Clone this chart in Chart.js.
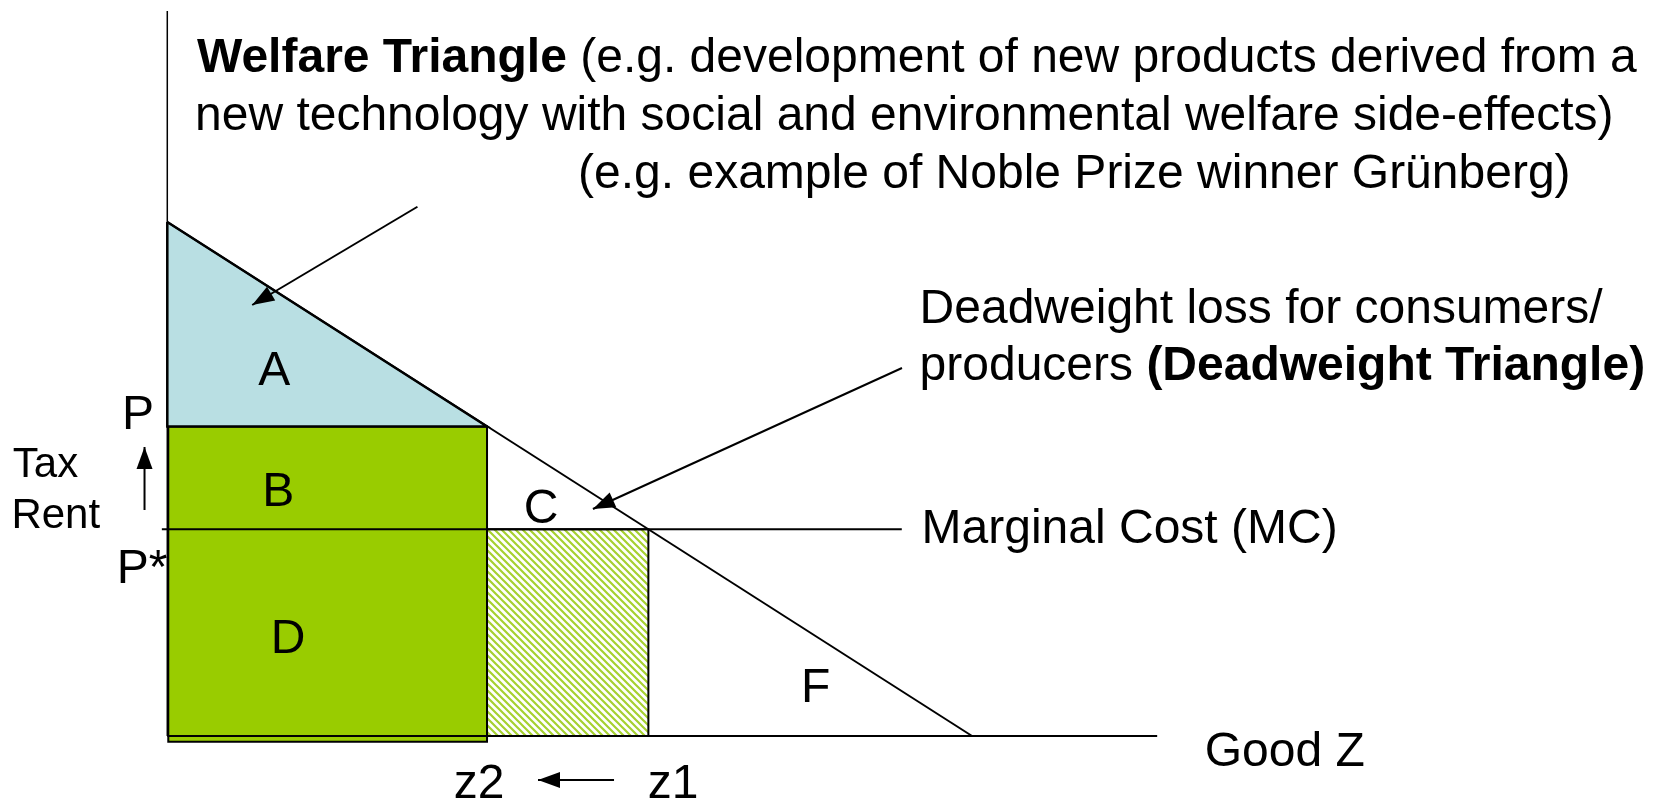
<!DOCTYPE html>
<html lang="en">
<head>
  <meta charset="UTF-8">
  <title>Welfare Triangle</title>
  <script src="https://cdn.jsdelivr.net/npm/chart.js"></script>
  <style>
    html, body { margin: 0; padding: 0; background: #fff; overflow: hidden; }
    #wrap { width: 1664px; height: 801px; }
  </style>
</head>
<body>
  <div id="wrap"><canvas id="welfareChart"></canvas></div>

  <script>
    // demand curve (price axis intercept, quantity axis intercept)
    const demandQty = [0, 81.3];
    const demandPrice = [70.9, 0];
    // price levels
    const priceNames = ['P', 'P*'];
    const prices = [42.7, 28.5];
    // quantities
    const qtyNames = ['z2', 'z1'];
    const quantities = [32.3, 48.6];
    // marginal cost line runs from just left of the axis to the label
    const mcRange = [-0.55, 74.2];
    // axis lengths
    const axisQtyMax = 100;
    const axisPriceMax = 100;
    // area letters
    const areaNames = ['A', 'B', 'C', 'D', 'F'];

    const FONT = '"Liberation Sans", Arial, sans-serif';
    const SIZE = 48;

    // text placed in data units: [x, y, align, segments, size]
    const notes = [
      [3.0, 91.6, 'left', [['Welfare Triangle', true], [' (e.g. development of new products derived from a', false]]],
      [2.8, 83.6, 'left', [['new technology with social and environmental welfare side-effects)', false]]],
      [41.5, 75.6, 'left', [['(e.g. example of Noble Prize winner Grünberg)', false]]],
      [76.0, 57.0, 'left', [['Deadweight loss for consumers/', false]]],
      [76.0, 49.1, 'left', [['producers ', false], ['(Deadweight Triangle)', true]]],
      [76.2, 26.6, 'left', [['Marginal Cost (MC)', false]]],
      [104.8, -4.1, 'left', [['Good Z', false]]],
      [-15.6, 35.7, 'left', [['Tax', false]], 42],
      [-15.75, 28.7, 'left', [['Rent', false]], 42],
      [10.8, 48.4, 'center', [[areaNames[0], false]]],
      [11.2, 31.7, 'center', [[areaNames[1], false]]],
      [37.75, 29.4, 'center', [[areaNames[2], false]]],
      [12.2, 11.45, 'center', [[areaNames[3], false]]],
      [65.5, 4.7, 'center', [[areaNames[4], false]]],
      [-2.95, 42.3, 'center', [[priceNames[0], false]]],
      [-2.55, 21.1, 'center', [[priceNames[1], false]]],
      [31.5, -8.55, 'center', [[qtyNames[0], false]]],
      [51.1, -8.55, 'center', [[qtyNames[1], false]]]
    ];

    function hatchPattern(ctx) {
      const c = document.createElement('canvas');
      c.width = 7; c.height = 7;
      const g = c.getContext('2d');
      g.fillStyle = '#ffffff';
      g.fillRect(0, 0, 7, 7);
      g.strokeStyle = '#a6d130';
      g.lineWidth = 2.2;
      g.beginPath();
      g.moveTo(-1, -1); g.lineTo(8, 8);
      g.moveTo(-1, 6); g.lineTo(1, 8);
      g.moveTo(6, -1); g.lineTo(8, 1);
      g.stroke();
      return ctx.createPattern(c, 'repeat');
    }

    const pt = (x, y) => ({ x: x, y: y });
    const [pP, pStar] = prices;
    const [z2, z1] = quantities;

    const lineBase = { showLine: true, pointRadius: 0, borderColor: '#000', tension: 0, fill: false };

    const canvas = document.getElementById('welfareChart');
    const ctx = canvas.getContext('2d');

    const datasets = [
      // arrows
      { ...lineBase, order: 0, arrow: true, borderWidth: 2,
        data: [pt(25.27, 73.0), pt(8.58, 59.45)] },
      { ...lineBase, order: 0, arrow: true, borderWidth: 2,
        data: [pt(74.22, 50.76), pt(43.0, 31.31)] },
      { ...lineBase, order: 0, arrow: true, borderWidth: 2,
        data: [pt(-2.3, 31.17), pt(-2.3, 39.86)] },
      { ...lineBase, order: 0, arrow: true, borderWidth: 2,
        data: [pt(45.13, -6.07), pt(37.45, -6.07)] },
      // demand
      { ...lineBase, order: 1, borderWidth: 2,
        data: [pt(demandQty[0], demandPrice[0]), pt(demandQty[1], demandPrice[1])] },
      // marginal cost
      { ...lineBase, order: 1, borderWidth: 2,
        data: [pt(mcRange[0], pStar), pt(mcRange[1], pStar)] },
      // axes
      { ...lineBase, order: 1, borderWidth: 1.5,
        data: [pt(0, 0), pt(0, axisPriceMax)] },
      { ...lineBase, order: 1, borderWidth: 2,
        data: [pt(0, 0), pt(axisQtyMax, 0)] },
      // hatched area between z2 and z1 below P*
      { ...lineBase, order: 5, borderWidth: 2, fill: 'shape', backgroundColor: hatchPattern(ctx),
        data: [pt(z2, pStar), pt(z1, pStar), pt(z1, 0), pt(z2, 0), pt(z2, pStar)] },
      // welfare triangle A
      { ...lineBase, order: 6, borderWidth: 2.5, fill: 'shape', backgroundColor: '#b9dfe3',
        data: [pt(0, demandPrice[0]), pt(z2, pP), pt(0, pP), pt(0, demandPrice[0])] },
      // tax rent + cost area B + D
      { ...lineBase, order: 7, borderWidth: 2, fill: 'shape', backgroundColor: '#99cc00',
        data: [pt(0.1, pP), pt(z2, pP), pt(z2, -0.8), pt(0.1, -0.8), pt(0.1, pP)] }
    ];

    const arrowHeads = {
      id: 'arrowHeads',
      afterDatasetsDraw(chart) {
        const c = chart.ctx;
        chart.data.datasets.forEach((ds, i) => {
          if (!ds.arrow) return;
          const pts = chart.getDatasetMeta(i).data;
          const a = pts[pts.length - 2], b = pts[pts.length - 1];
          const ang = Math.atan2(b.y - a.y, b.x - a.x);
          const len = 22, half = 8;
          c.save();
          c.fillStyle = '#000';
          c.translate(b.x, b.y);
          c.rotate(ang);
          c.beginPath();
          c.moveTo(0, 0);
          c.lineTo(-len, -half);
          c.lineTo(-len, half);
          c.closePath();
          c.fill();
          c.restore();
        });
      }
    };

    const notesPlugin = {
      id: 'notes',
      afterDraw(chart) {
        const c = chart.ctx;
        const sx = chart.scales.x, sy = chart.scales.y;
        c.save();
        c.fillStyle = '#000';
        c.textBaseline = 'alphabetic';
        c.textAlign = 'left';
        notes.forEach(([x, y, align, segs, size]) => {
          const fs = size || SIZE;
          let px = sx.getPixelForValue(x);
          const py = sy.getPixelForValue(y);
          let total = 0;
          segs.forEach(([t, bold]) => {
            c.font = (bold ? 'bold ' : '') + fs + 'px ' + FONT;
            total += c.measureText(t).width;
          });
          if (align === 'center') px -= total / 2;
          segs.forEach(([t, bold]) => {
            c.font = (bold ? 'bold ' : '') + fs + 'px ' + FONT;
            c.fillText(t, px, py);
            px += c.measureText(t).width;
          });
        });
        c.restore();
      }
    };

    new Chart(ctx, {
      type: 'scatter',
      data: { datasets: datasets },
      options: {
        responsive: true,
        maintainAspectRatio: false,
        animation: false,
        events: [],
        layout: { padding: 0 },
        plugins: { legend: { display: false }, tooltip: { enabled: false } },
        scales: {
          x: { type: 'linear', display: false, min: -16.9, max: 151.2 },
          y: { type: 'linear', display: false, min: -8.97, max: 101.52 }
        }
      },
      plugins: [arrowHeads, notesPlugin]
    });
  </script>
</body>
</html>
